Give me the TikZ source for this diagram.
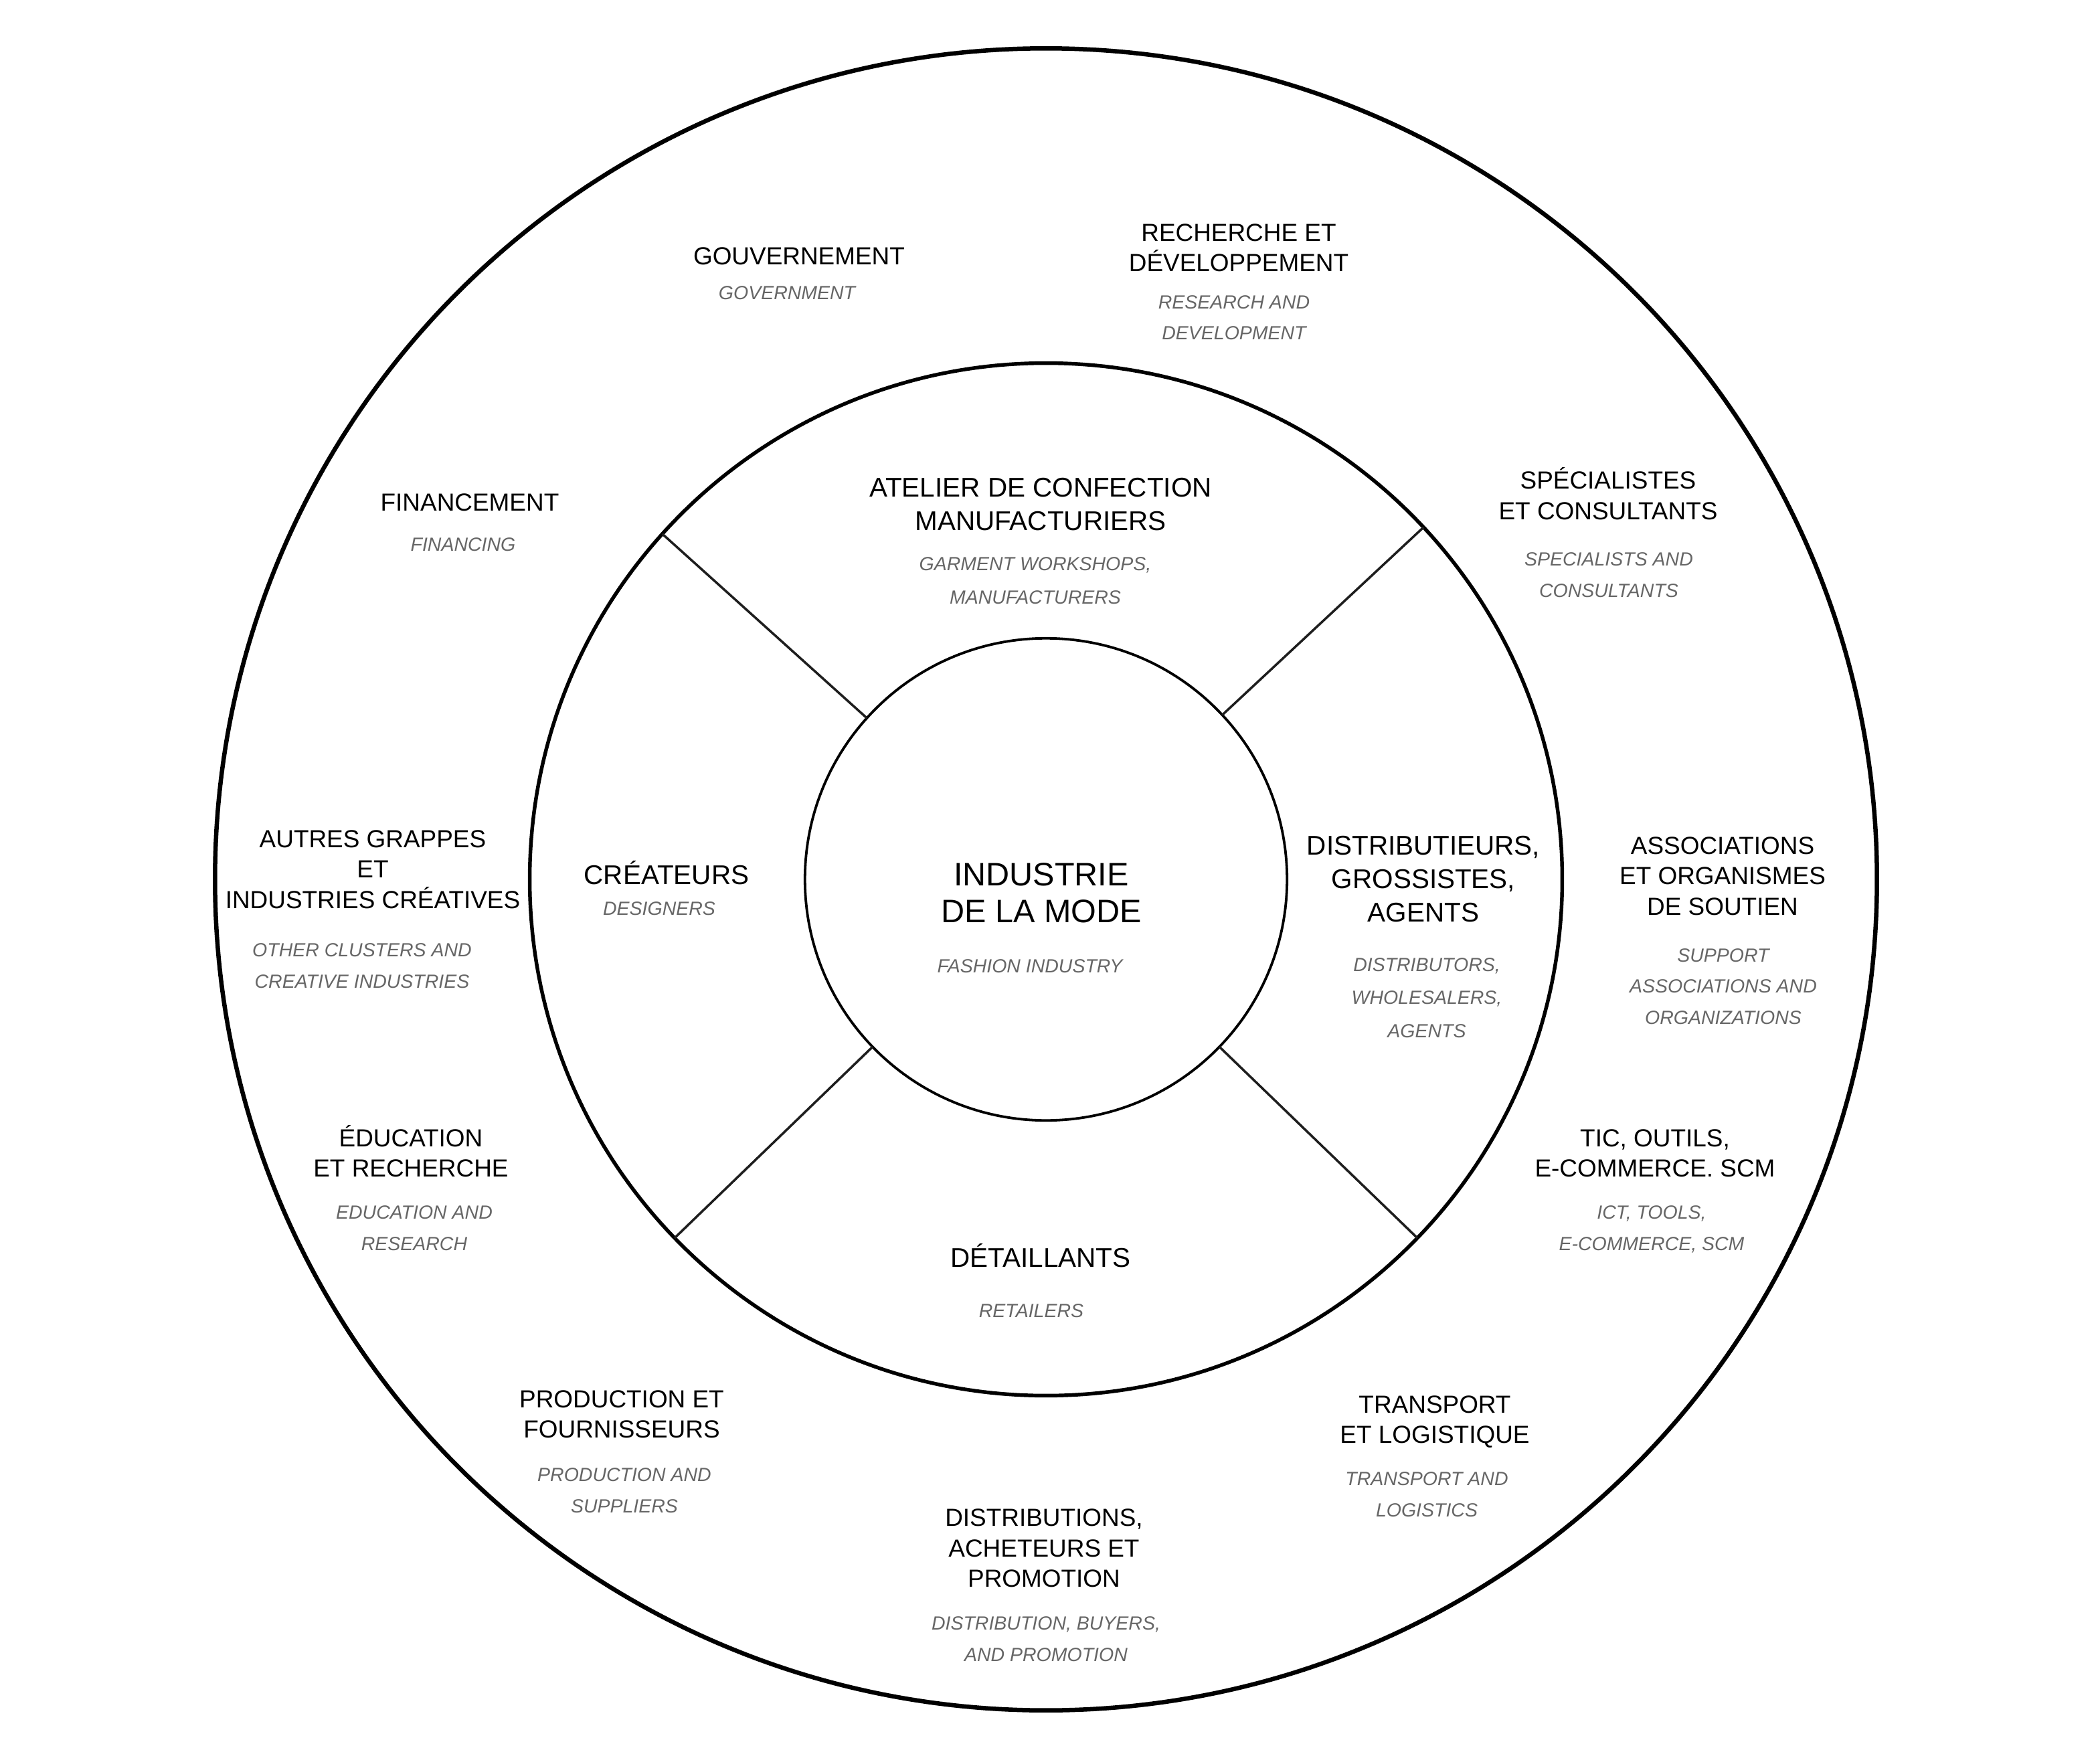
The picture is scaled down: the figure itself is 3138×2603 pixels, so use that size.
\documentclass[tikz,border=0pt]{standalone}
\usepackage{fontspec}
\setmainfont{Liberation Sans}
\definecolor{subgrey}{HTML}{666666}
\definecolor{divline}{HTML}{1E1E1E}
\tikzset{
  ringline/.style={draw, circle, inner sep=0pt, outer sep=0pt},
  outerlbl/.style={font=\fontsize{10.5}{12.8}\selectfont, align=center, anchor=base, inner sep=0pt},
  midlbl/.style={font=\fontsize{11.5}{14.2}\selectfont, align=center, anchor=base, inner sep=0pt},
  corelbl/.style={font=\fontsize{13.8}{15.6}\selectfont, align=center, anchor=base, inner sep=0pt},
  outersub/.style={font=\fontsize{8.1}{13.1}\selectfont\itshape, text=subgrey, align=center, anchor=base, inner sep=0pt},
  midsub/.style={font=\fontsize{8.1}{14}\selectfont\itshape, text=subgrey, align=center, anchor=base, inner sep=0pt}
}
\begin{document}
\begin{tikzpicture}[x=0.01cm,y=-0.01cm]
    \useasboundingbox (0,0) rectangle (3138,2603);
    \coordinate (c) at (1563,1314);
    % the three rings
    \node[ringline, line width=1.85pt, minimum size=24.82cm] (outer) at (c) {};
    \node[ringline, line width=1.55pt, minimum size=15.42cm] (ring) at (c) {};
    \node[ringline, line width=1.08pt, minimum size=7.2cm] (core) at (c) {};
    \foreach \a in {43,138,224,316}
        \draw[divline, line width=1pt] (core.\a) -- (ring.\a);
    % centre (nodes sit on the baseline of their last line)
    \node[corelbl] (mode) at (1556,1378) {INDUSTRIE\\DE LA MODE};
    \node[midsub] (modeEn) at (1539,1453) {FASHION INDUSTRY};
    % middle ring
    \node[midlbl] (atelier) at (1555,792) {ATELIER DE CONFECTION\\MANUFACTURIERS};
    \node[midsub] (atelierEn) at (1547,902) {GARMENT WORKSHOPS,\\MANUFACTURERS};
    \node[midlbl] (createurs) at (996,1321) {CRÉATEURS};
    \node[midsub] (createursEn) at (985,1367) {DESIGNERS};
    \node[midlbl] (distrib) at (2127,1377) {DISTRIBUTIEURS,\\GROSSISTES,\\AGENTS};
    \node[midsub] (distribEn) at (2132,1550) {DISTRIBUTORS,\\WHOLESALERS,\\AGENTS};
    \node[midlbl] (detail) at (1555,1893) {DÉTAILLANTS};
    \node[midsub] (detailEn) at (1541,1968) {RETAILERS};
    % outer ring
    \node[outerlbl] (gouv) at (1194,396) {GOUVERNEMENT};
    \node[outersub] (gouvEn) at (1176,447) {GOVERNMENT};
    \node[outerlbl] (rd) at (1851,406) {RECHERCHE ET\\DÉVELOPPEMENT};
    \node[outersub] (rdEn) at (1844,508) {RESEARCH AND\\DEVELOPMENT};
    \node[outerlbl] (fin) at (702,763) {FINANCEMENT};
    \node[outersub] (finEn) at (692,823) {FINANCING};
    \node[outerlbl] (spec) at (2403,776) {SPÉCIALISTES\\ET CONSULTANTS};
    \node[outersub] (specEn) at (2404,892) {SPECIALISTS AND\\CONSULTANTS};
    \node[outerlbl] (autres) at (557,1357) {AUTRES GRAPPES\\ET\\INDUSTRIES CRÉATIVES};
    \node[outersub] (autresEn) at (541,1476) {OTHER CLUSTERS AND\\CREATIVE INDUSTRIES};
    \node[outerlbl] (assoc) at (2574,1367) {ASSOCIATIONS\\ET ORGANISMES\\DE SOUTIEN};
    \node[outersub] (assocEn) at (2575,1530) {SUPPORT\\ASSOCIATIONS AND\\ORGANIZATIONS};
    \node[outerlbl] (edu) at (614,1758) {ÉDUCATION\\ET RECHERCHE};
    \node[outersub] (eduEn) at (619,1868) {EDUCATION AND\\RESEARCH};
    \node[outerlbl] (tic) at (2473,1758) {TIC, OUTILS,\\E-COMMERCE. SCM};
    \node[outersub] (ticEn) at (2468,1868) {ICT, TOOLS,\\E-COMMERCE, SCM};
    \node[outerlbl] (prod) at (929,2148) {PRODUCTION ET\\FOURNISSEURS};
    \node[outersub] (prodEn) at (933,2260) {PRODUCTION AND\\SUPPLIERS};
    \node[outerlbl] (transp) at (2144,2156) {TRANSPORT\\ET LOGISTIQUE};
    \node[outersub] (transpEn) at (2132,2266) {TRANSPORT AND\\LOGISTICS};
    \node[outerlbl] (acheteurs) at (1560,2371) {DISTRIBUTIONS,\\ACHETEURS ET\\PROMOTION};
    \node[outersub] (acheteursEn) at (1563,2482) {DISTRIBUTION, BUYERS,\\AND PROMOTION};
\end{tikzpicture}
\end{document}
